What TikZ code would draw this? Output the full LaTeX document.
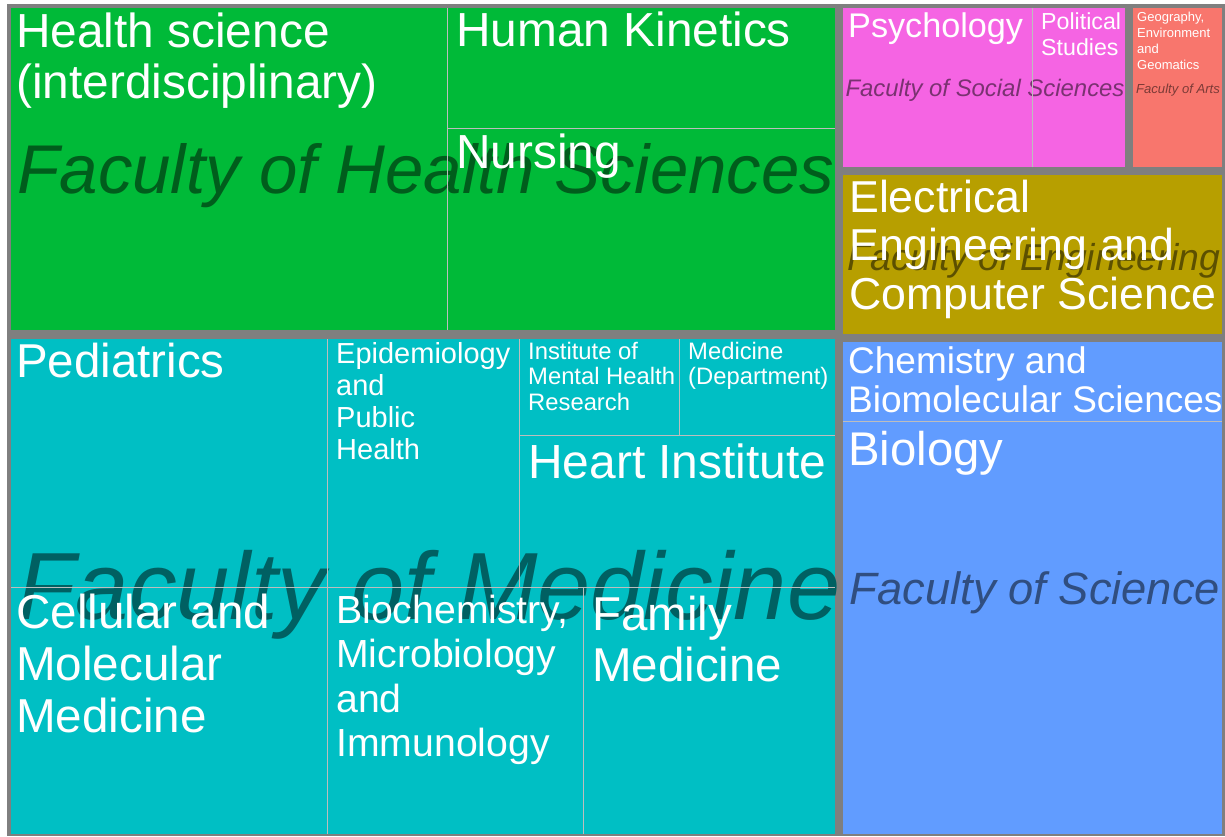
\documentclass[tikz,border=0pt]{standalone}
\usepackage{fontspec}
\setmainfont{Liberation Sans}
\definecolor{fhs}{HTML}{00BA38}
\definecolor{fmed}{HTML}{00BFC4}
\definecolor{fsci}{HTML}{619CFF}
\definecolor{feng}{HTML}{B79F00}
\definecolor{fsoc}{HTML}{F564E3}
\definecolor{farts}{HTML}{F8766D}
\definecolor{groupgray}{HTML}{7F7F7F}
\definecolor{tileline}{HTML}{BDBDBD}
\newcommand{\fsz}[2]{\fontsize{#1}{#2}\selectfont}
\tikzset{
  lab/.style={anchor=base west, inner sep=0pt, text=white, align=left},
  fac/.style={anchor=base, inner sep=0pt},
}
\begin{document}
\begin{tikzpicture}[x=1pt, y=-1pt]
      \useasboundingbox (0,0) rectangle (1225,836);
      \fill[groupgray] (7,4) rectangle (1225,836);
      \fill[fhs] (11,8) rectangle (835,330);
      \fill[fmed] (11,339) rectangle (835,834);
      \fill[fsoc] (843,8) rectangle (1125,167);
      \fill[farts] (1133,8) rectangle (1222,167);
      \fill[feng] (843,175) rectangle (1222,334);
      \fill[fsci] (843,342) rectangle (1222,834);
      \draw
        (426,193) node[fac, text=fhs!50!black, font=\fsz{69}{72}\itshape] (hsfac){Faculty of Health Sciences}
        (429,619) node[fac, text=fmed!50!black, font=\fsz{95.5}{98}\itshape] (medfac){Faculty of Medicine}
        (985,96) node[fac, text=fsoc!50!black, font=\fsz{23.9}{26}\itshape] (socfac){Faculty of Social Sciences}
        (1178,93) node[fac, text=farts!50!black, font=\fsz{13.1}{15}\itshape] (artsfac){Faculty of Arts}
        (1034,270) node[fac, text=feng!50!black, font=\fsz{37.4}{40}\itshape] (engfac){Faculty of Engineering}
        (1035,604) node[fac, text=fsci!50!black, font=\fsz{45.3}{48}\itshape] (scifac){Faculty of Science};
      \begin{scope}[tileline, line width=1pt]
        \draw (447,8) to (447,330);
        \draw (447,128) to (835,128);
        \draw (327,339) to (327,834);
        \draw (519,339) to (519,587);
        \draw (679,339) to (679,435);
        \draw (519,435) to (835,435);
        \draw (11,587) to (835,587);
        \draw (583,587) to (583,834);
        \draw (1032,8) to (1032,167);
        \draw (843,421) to (1222,421);
      \end{scope}
      \draw
        (16,98) node[lab, font=\fsz{47.8}{51}] (hsi){Health science\\(interdisciplinary)}
        (456,46) node[lab, font=\fsz{47.8}{51}] (hk){Human Kinetics}
        (456,168) node[lab, font=\fsz{47.8}{51}] (nurs){Nursing}
        (16,377) node[lab, font=\fsz{47.5}{51}] (ped){Pediatrics}
        (336,459) node[lab, font=\fsz{29}{32}] (epi){Epidemiology\\and\\Public\\Health}
        (528,410) node[lab, font=\fsz{23.8}{25.5}] (imhr){Institute of\\Mental Health\\Research}
        (688,384.5) node[lab, font=\fsz{23.8}{25.5}] (meddept){Medicine\\(Department)}
        (528,478) node[lab, font=\fsz{47.9}{51}] (heart){Heart Institute}
        (16,732) node[lab, font=\fsz{47.6}{52}] (cmm){Cellular and\\Molecular\\Medicine}
        (336,756.5) node[lab, font=\fsz{39.2}{44.5}] (bmi){Biochemistry,\\Microbiology\\and\\Immunology}
        (592,681) node[lab, font=\fsz{47.5}{51}] (fam){Family\\Medicine}
        (848,37) node[lab, font=\fsz{34.2}{38}] (psy){Psychology}
        (1041,55) node[lab, font=\fsz{23.2}{26}] (pol){Political\\Studies}
        (1137,69) node[lab, font=\fsz{13}{16}] (geo){Geography,\\Environment\\and\\Geomatics}
        (849,309) node[lab, font=\fsz{44.7}{48.5}] (eecs){Electrical\\Engineering and\\Computer Science}
        (848,412) node[lab, font=\fsz{37}{39}] (chem){Chemistry and\\Biomolecular Sciences}
        (848,465) node[lab, font=\fsz{47.3}{51}] (bio){Biology};
    \end{tikzpicture}
\end{document}
